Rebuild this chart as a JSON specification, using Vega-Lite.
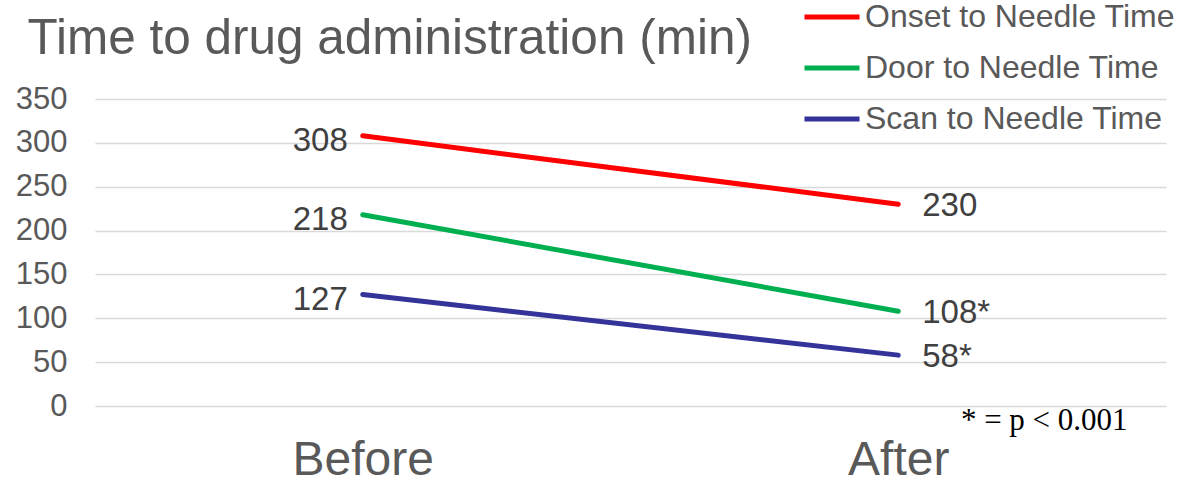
{
  "$schema": "https://vega.github.io/schema/vega-lite/v6.json",
  "autosize": "none",
  "width": 1071,
  "height": 307,
  "padding": {"left": 95, "top": 99, "right": 12, "bottom": 75},
  "background": "white",
  "config": {
    "view": {"stroke": null},
    "font": "Liberation Sans"
  },
  "data": {
    "values": [
      {"period": "Before", "series": "Onset to Needle Time", "minutes": 308, "label": "308"},
      {"period": "After", "series": "Onset to Needle Time", "minutes": 230, "label": "230"},
      {"period": "Before", "series": "Door to Needle Time", "minutes": 218, "label": "218"},
      {"period": "After", "series": "Door to Needle Time", "minutes": 108, "label": "108*"},
      {"period": "Before", "series": "Scan to Needle Time", "minutes": 127, "label": "127"},
      {"period": "After", "series": "Scan to Needle Time", "minutes": 58, "label": "58*"}
    ]
  },
  "encoding": {
    "x": {
      "field": "period",
      "type": "nominal",
      "sort": ["Before", "After"],
      "scale": {"type": "point", "padding": 0.5},
      "axis": {
        "title": null,
        "domain": false,
        "ticks": false,
        "tickSize": 0,
        "grid": false,
        "labelAngle": 0,
        "labelFont": "Liberation Sans",
        "labelFontSize": 48,
        "labelColor": "#595959",
        "labelBaseline": "alphabetic",
        "labelPadding": 68
      }
    },
    "y": {
      "field": "minutes",
      "type": "quantitative",
      "scale": {"domain": [0, 350], "nice": false, "zero": true},
      "axis": {
        "title": "Time to drug administration (min)",
        "titleAngle": 0,
        "titleAlign": "left",
        "titleBaseline": "alphabetic",
        "titleX": -68,
        "titleY": -46,
        "titleFont": "Liberation Sans",
        "titleFontSize": 49.5,
        "titleFontWeight": "normal",
        "titleColor": "#595959",
        "titleLimit": 1000,
        "values": [0, 50, 100, 150, 200, 250, 300, 350],
        "domain": false,
        "ticks": false,
        "tickSize": 0,
        "grid": true,
        "gridColor": "#D9D9D9",
        "gridWidth": 1.5,
        "labelFont": "Liberation Sans",
        "labelFontSize": 31,
        "labelColor": "#595959",
        "labelPadding": 28
      }
    }
  },
  "layer": [
    {
      "mark": {"type": "line", "strokeWidth": 5, "strokeCap": "round"},
      "encoding": {
        "color": {
          "field": "series",
          "type": "nominal",
          "scale": {
            "domain": ["Onset to Needle Time", "Door to Needle Time", "Scan to Needle Time"],
            "range": ["#FF0000", "#00B050", "#333399"]
          },
          "legend": {
            "title": null,
            "orient": "none",
            "legendX": 707,
            "legendY": -112,
            "padding": 0,
            "symbolType": "stroke",
            "symbolSize": 3025,
            "symbolStrokeWidth": 5,
            "rowPadding": 5,
            "labelOffset": 3,
            "labelFont": "Liberation Sans",
            "labelFontSize": 32,
            "labelColor": "#595959",
            "labelLimit": 400
          }
        }
      }
    },
    {
      "transform": [{"filter": "datum.period === 'Before'"}],
      "mark": {"type": "text", "align": "right", "baseline": "middle", "dx": -15, "dy": 5, "fontSize": 33, "color": "#404040", "font": "Liberation Sans"},
      "encoding": {"text": {"field": "label"}}
    },
    {
      "transform": [{"filter": "datum.period === 'After'"}],
      "mark": {"type": "text", "align": "left", "baseline": "middle", "dx": 24, "dy": 2, "fontSize": 33, "color": "#404040", "font": "Liberation Sans"},
      "encoding": {"text": {"field": "label"}}
    },
    {
      "transform": [{"filter": "datum.period === 'After' && datum.series === 'Scan to Needle Time'"}],
      "mark": {"type": "text", "align": "center", "baseline": "middle", "dx": 146, "fontSize": 31, "color": "#000000", "font": "Liberation Serif", "text": "* = p < 0.001"},
      "encoding": {
        "x": {"datum": "After", "type": "nominal"},
        "y": {"datum": -17, "type": "quantitative"}
      }
    }
  ]
}
